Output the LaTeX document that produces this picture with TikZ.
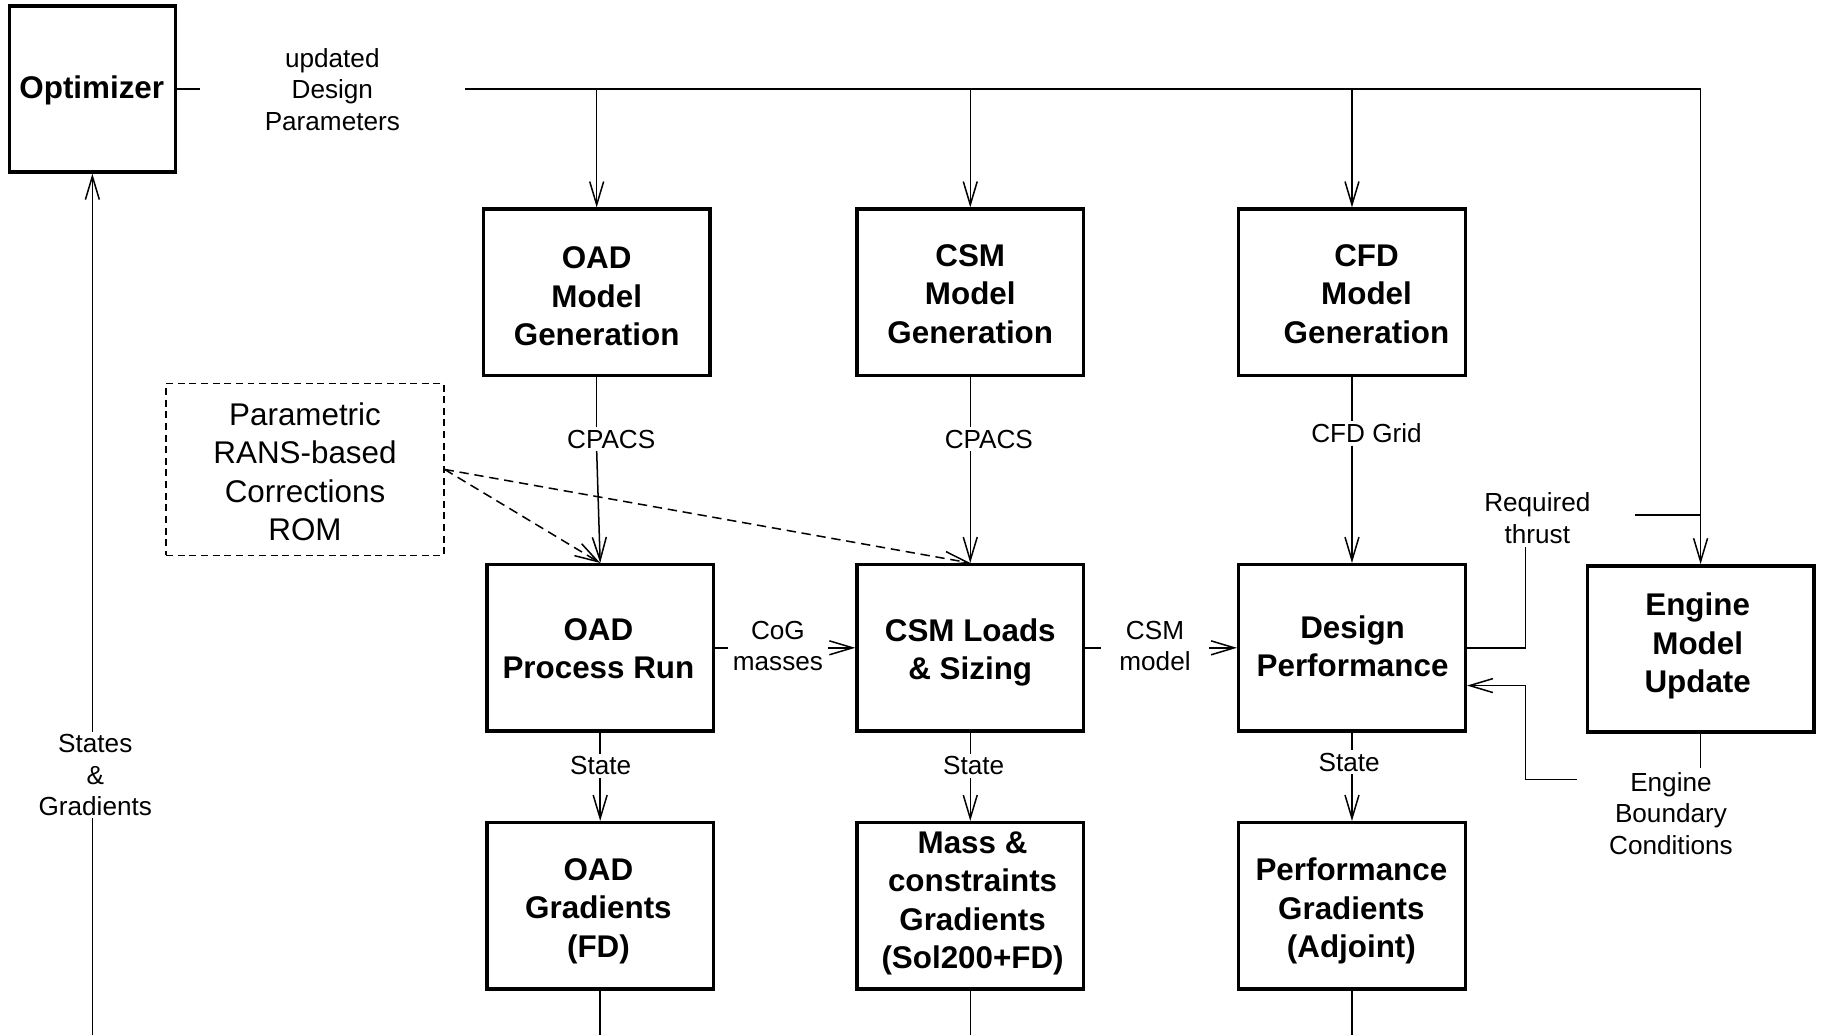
\documentclass[tikz,border=0pt]{standalone}
\usepackage{fontspec}
\setmainfont{Liberation Sans}
\usetikzlibrary{arrows.meta,calc}
\begin{document}
\begin{tikzpicture}[x=1pt,y=-1pt,
  box/.style={draw,line width=3pt,minimum width=195pt,minimum height=143pt,inner sep=0pt},
  boxtext/.style={align=center,inner sep=0pt,font=\bfseries\fontsize{27}{33}\selectfont},
  lbl/.style={align=center,font=\fontsize{22.5}{27}\selectfont,inner sep=2pt},
  conn/.style={line width=1.3pt},
  busline/.style={line width=2pt},
  arr/.style={conn,-{Straight Barb[length=20pt,width=12pt]}},
  dasharr/.style={arr,dash pattern=on 8pt off 5pt},
  ]
\useasboundingbox (0,0) rectangle (1568,891);
\coordinate (bot) at (0,891);

% box frames
\node[box,minimum width=143pt] (opt) at (79.5,76.5) {};
\node[box] (oadgen) at (513.5,251.5) {};
\node[box] (csmgen) at (835,251.5) {};
\node[box] (cfdgen) at (1163.5,251.5) {};
\node[box] (oadrun) at (516.5,557.5) {};
\node[box] (csmload) at (835,557.5) {};
\node[box] (desperf) at (1163.5,557.5) {};
\node[box] (engine) at (1463.5,558.5) {};
\node[box] (oadgrad) at (516.5,779.5) {};
\node[box] (massgrad) at (835,779.5) {};
\node[box] (perfgrad) at (1163.5,779.5) {};
\node[draw,line width=1.3pt,dash pattern=on 6pt off 4pt,minimum width=239pt,minimum height=148pt,inner sep=0pt] (rom) at (262.5,404) {};

% box texts
\node[boxtext] (optT) at (79,78) {Optimizer};
\node[boxtext] (oadgenT) at (513.5,255) {OAD\\Model\\Generation};
\node[boxtext] (csmgenT) at (835,253) {CSM\\Model\\Generation};
\node[boxtext] (cfdgenT) at (1176,253) {CFD\\Model\\Generation};
\node[boxtext] (oadrunT) at (515,558.5) {OAD\\Process Run};
\node[boxtext] (csmloadT) at (835,561.5) {CSM Loads\\\& Sizing};
\node[boxtext] (desperfT) at (1164,556) {Design\\Performance};
\node[boxtext] (engineT) at (1461,556) {Engine\\Model\\Update};
\node[boxtext] (oadgradT) at (515,784) {OAD\\Gradients\\(FD)};
\node[boxtext] (massgradT) at (837,777.5) {Mass \&\\constraints\\Gradients\\(Sol200+FD)};
\node[boxtext] (perfgradT) at (1163,784) {Performance\\Gradients\\(Adjoint)};
\node[align=center,inner sep=0pt,font=\fontsize{27}{33}\selectfont] (romT) at (262.5,406) {Parametric\\RANS-based\\Corrections\\ROM};

% labels
\node[lbl,minimum width=228pt] (upd) at (286,77) {updated\\Design\\Parameters};
\node[lbl,minimum width=85pt] (cog) at (669.5,556) {CoG\\masses};
\node[lbl,minimum width=92pt] (csmm) at (994,556) {CSM\\model};
\node[lbl] (req) at (1323,446) {Required\\thrust};
\node[lbl] (ebc) at (1438,700) {Engine\\Boundary\\Conditions};
\node[lbl] (cp1) at (526,378) {CPACS};
\node[lbl] (cp2) at (851,378) {CPACS};
\node[lbl] (grid) at (1176,373) {CFD Grid};
\node[lbl] (s1) at (517,659) {State};
\node[lbl] (s2) at (838,659) {State};
\node[lbl] (s3) at (1161,656) {State};
\node[lbl] (sg) at (82,667) {States\\\&\\Gradients};

% design parameter bus
\coordinate (busR) at (1463.5,76.5);
\draw[busline] (opt.east) -- (opt.east -| upd.west);
\draw[busline] (opt.east -| upd.east) -- (busR);
\draw[arr] (busR) -- (engine.north);
\draw[arr] (oadgen.north |- busR) -- (oadgen.north);
\draw[arr] (csmgen.north |- busR) -- (csmgen.north);
\draw[arr] (cfdgen.north |- busR) -- (cfdgen.north);

% model generation -> runs
\draw[conn] (oadgen.south) -- (oadgen.south |- cp1.north);
\draw[arr] (oadgen.south |- cp1.south) -- (oadrun.north);
\draw[conn] (csmgen.south) -- (csmgen.south |- cp2.north);
\draw[arr] (csmgen.south |- cp2.south) -- (csmload.north);
\draw[conn] (cfdgen.south) -- (cfdgen.south |- grid.north);
\draw[arr] (cfdgen.south |- grid.south) -- (desperf.north);

% ROM dashed
\draw[dasharr] (rom.east) -- (oadrun.north);
\draw[dasharr] (rom.east) -- (csmload.north);

% horizontal flow
\draw[conn] (oadrun.east) -- (oadrun.east -| cog.west);
\draw[arr] (oadrun.east -| cog.east) -- (csmload.west);
\draw[conn] (csmload.east) -- (csmload.east -| csmm.west);
\draw[arr] (csmload.east -| csmm.east) -- (desperf.west);

% required thrust
\coordinate (rqa) at (1313,471);
\coordinate (rqb) at (1407,443);
\draw[conn] (desperf.east) -| (rqa);
\draw[conn] (rqb) -- (rqb -| busR);

% engine boundary conditions
\coordinate (eta) at (1463.5,661);
\coordinate (eba) at (1357,671);
\coordinate (ebb) at (1313,590);
\draw[conn] (engine.south) -- (eta);
\draw[arr] (eba) -| (ebb) -- (ebb -| desperf.east);

% states
\draw[conn] (oadrun.south) -- (oadrun.south |- s1.north);
\draw[arr] (oadrun.south |- s1.south) -- (oadgrad.north);
\draw[conn] (csmload.south) -- (csmload.south |- s2.north);
\draw[arr] (csmload.south |- s2.south) -- (massgrad.north);
\draw[conn] (desperf.south) -- (desperf.south |- s3.north);
\draw[arr] (desperf.south |- s3.south) -- (perfgrad.north);

% gradients out
\draw[conn] (oadgrad.south) -- (oadgrad.south |- bot);
\draw[conn] (massgrad.south) -- (massgrad.south |- bot);
\draw[conn] (perfgrad.south) -- (perfgrad.south |- bot);
\draw[conn] (opt.south |- bot) -- (opt.south |- sg.south);
\draw[arr] (opt.south |- sg.north) -- (opt.south);
\end{tikzpicture}
\end{document}
